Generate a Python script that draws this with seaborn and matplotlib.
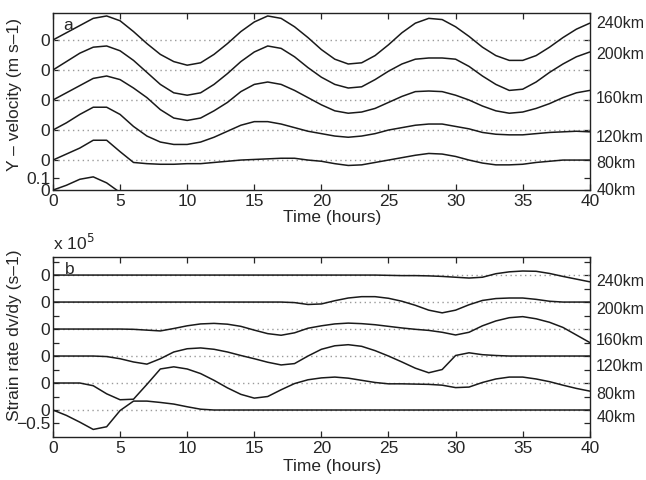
import numpy as np
import pandas as pd
import matplotlib
matplotlib.use("Agg")
import matplotlib.pyplot as plt
import seaborn as sns

hours = list(range(41))
stations = ["40km", "80km", "120km", "160km", "200km", "240km"]

# (a) Y-velocity anomaly per station, m/s (each trace drawn on its own baseline)
vel_40km = [0.00, 0.04, 0.09, 0.11, 0.06, -0.02, -0.05, -0.07] + [np.nan] * 33
vel_80km = [0.00, 0.05, 0.10, 0.165, 0.165, 0.07, -0.02, -0.03, -0.035, -0.035, -0.03,
            -0.03, -0.02, -0.01, 0.00, 0.005, 0.01, 0.015, 0.015, 0.00, -0.01,
            -0.03, -0.045, -0.04, -0.02, 0.00, 0.02, 0.04, 0.055, 0.05, 0.03,
            0.00, -0.025, -0.04, -0.04, -0.035, -0.02, -0.01, 0.00, 0.00, 0.00]
vel_120km = [0.00, 0.06, 0.13, 0.19, 0.19, 0.13, 0.03, -0.05, -0.10, -0.12, -0.12,
             -0.10, -0.06, -0.01, 0.04, 0.07, 0.07, 0.05, 0.02, -0.01, -0.03,
             -0.05, -0.06, -0.05, -0.03, 0.00, 0.02, 0.04, 0.05, 0.05, 0.03,
             0.01, -0.02, -0.035, -0.04, -0.04, -0.03, -0.02, -0.015, -0.01, -0.015]
vel_160km = [0.00, 0.06, 0.12, 0.18, 0.20, 0.17, 0.10, 0.02, -0.08, -0.15, -0.17,
             -0.15, -0.09, -0.02, 0.07, 0.13, 0.15, 0.13, 0.08, 0.02, -0.04,
             -0.09, -0.11, -0.10, -0.07, -0.02, 0.03, 0.07, 0.075, 0.07, 0.04,
             0.00, -0.05, -0.09, -0.11, -0.10, -0.07, -0.03, 0.02, 0.06, 0.08]
vel_200km = [0.00, 0.07, 0.14, 0.19, 0.20, 0.16, 0.08, -0.02, -0.12, -0.19, -0.21,
             -0.19, -0.12, -0.03, 0.07, 0.15, 0.20, 0.18, 0.11, 0.02, -0.06,
             -0.12, -0.15, -0.14, -0.08, -0.01, 0.05, 0.09, 0.10, 0.10, 0.09,
             0.03, -0.05, -0.12, -0.17, -0.16, -0.10, -0.02, 0.05, 0.11, 0.15]
vel_240km = [0.00, 0.06, 0.12, 0.18, 0.20, 0.16, 0.07, -0.03, -0.12, -0.18, -0.21,
             -0.19, -0.12, -0.03, 0.07, 0.15, 0.20, 0.18, 0.11, 0.02, -0.08,
             -0.16, -0.20, -0.19, -0.13, -0.04, 0.06, 0.14, 0.18, 0.17, 0.11,
             0.03, -0.06, -0.13, -0.17, -0.17, -0.13, -0.06, 0.02, 0.09, 0.14]

# (b) strain rate dv/dy per station, x 1e-5 s^-1
strain_40km = [0.00, -0.20, -0.45, -0.72, -0.62, -0.02, 0.33, 0.33, 0.28, 0.22, 0.12,
               0.03] + [0.00] * 29
strain_80km = [0.00, 0.00, 0.00, -0.10, -0.40, -0.62, -0.60, -0.05, 0.52, 0.60, 0.52,
               0.35, 0.10, -0.18, -0.42, -0.56, -0.50, -0.25, -0.02, 0.12, 0.19,
               0.22, 0.18, 0.10, 0.02, -0.03, -0.03, -0.04, -0.05, -0.08, -0.17,
               -0.15, 0.02, 0.15, 0.22, 0.22, 0.15, 0.05, -0.08, -0.20, -0.30]
strain_120km = [0.00] * 4 + [-0.02, -0.10, -0.22, -0.30, -0.10, 0.15, 0.27,
                0.30, 0.25, 0.15, 0.02, -0.10, -0.23, -0.33, -0.28, 0.00, 0.25,
                0.38, 0.42, 0.36, 0.20, 0.00, -0.22, -0.45, -0.62, -0.50, 0.02,
                0.12, 0.05, 0.02, 0.00, 0.00, 0.00, 0.00, 0.00, 0.00, 0.00]
strain_160km = [0.00] * 6 + [-0.01, -0.04, -0.07, 0.02, 0.12,
                0.19, 0.21, 0.18, 0.10, -0.04, -0.17, -0.23, -0.14, 0.03, 0.12,
                0.19, 0.22, 0.20, 0.16, 0.10, 0.04, -0.01, -0.05, -0.12, -0.22,
                -0.12, 0.12, 0.30, 0.42, 0.46, 0.38, 0.25, 0.06, -0.22, -0.50]
strain_200km = [0.00] * 18 + [-0.02, -0.09, -0.07,
                0.05, 0.15, 0.20, 0.20, 0.14, 0.03, -0.12, -0.30, -0.40, -0.30,
                -0.10, 0.06, 0.13, 0.15, 0.15, 0.10, 0.03, 0.00, 0.00, 0.00]
strain_240km = [0.00] * 25 + [-0.01, -0.02, -0.02, -0.03, -0.05, -0.08,
                -0.11, -0.08, 0.05, 0.12, 0.15, 0.14, 0.06, -0.05, -0.15, -0.25]

vel_step = 0.25
strain_step = 1.0

# where the station names sit on the right of each panel (data units)
vel_name_y = [0.0, 0.225, 0.44, 0.76, 1.125, 1.385]
strain_name_y = [-0.27, 0.59, 1.63, 2.59, 3.74, 4.78]


def stack(series, step):
    frames = []
    for i, (name, vals) in enumerate(zip(stations, series)):
        frames.append(pd.DataFrame({"hour": hours,
                                    "value": np.array(vals, dtype=float) + i * step,
                                    "station": name}))
    return pd.concat(frames, ignore_index=True)


def style_axis(ax):
    ax.set_xlim(0, 40)
    ax.set_xticks(range(0, 41, 5))
    ax.tick_params(direction="in", top=True, right=True, length=4, width=0.9,
                   labelsize=12.5, pad=3)
    ax.tick_params(axis="y", pad=2)
    for s in ax.spines.values():
        s.set_linewidth(1.0)
        s.set_color("#222222")
    ax.set_xlabel("Time (hours)", fontsize=12.5)


sns.set_style("ticks")
plt.rcParams["font.family"] = ["Liberation Sans", "DejaVu Sans"]

fig = plt.figure(figsize=(6.46, 4.8), dpi=100)
ax1 = fig.add_axes([0.082, 0.604, 0.831, 0.369])
ax2 = fig.add_axes([0.082, 0.0896, 0.831, 0.375])

# panel a
vel_df = stack([vel_40km, vel_80km, vel_120km, vel_160km, vel_200km, vel_240km], vel_step)
for i in range(1, len(stations)):
    ax1.axhline(i * vel_step, color="#9a9a9a", linestyle=(0, (1, 2.5)), lw=1.0, zorder=1)
sns.lineplot(data=vel_df, x="hour", y="value", units="station", estimator=None,
             color="#1a1a1a", lw=1.1, ax=ax1, zorder=3)
ax1.set_ylim(0, 1.475)
yt = [0, 0.1] + [i * vel_step for i in range(1, 6)]
ax1.set_yticks(yt)
ax1.set_yticklabels(["0", "0.1"] + ["0"] * 5)
style_axis(ax1)
ax1.set_ylabel("Y \u2013 velocity (m s\u20131)", fontsize=12.5)
ax1.yaxis.set_label_coords(-0.058, 0.54)
ax1.xaxis.set_label_coords(0.52, -0.115)
ax1.text(0.02, 0.93, "a", transform=ax1.transAxes, fontsize=12.5, va="center")
for name, y in zip(stations, vel_name_y):
    ax1.text(1.012, y, name, transform=ax1.get_yaxis_transform(), fontsize=11.5,
             va="center", ha="left")

# panel b
strain_df = stack([strain_40km, strain_80km, strain_120km, strain_160km,
                   strain_200km, strain_240km], strain_step)
for i in range(len(stations)):
    ax2.axhline(i * strain_step, color="#9a9a9a", linestyle=(0, (1, 2.5)), lw=1.0, zorder=1)
sns.lineplot(data=strain_df, x="hour", y="value", units="station", estimator=None,
             color="#1a1a1a", lw=1.1, ax=ax2, zorder=3)
ax2.set_ylim(-1.0, 5.67)
yt2 = [k * 0.5 for k in range(-1, 12)]
ax2.set_yticks(yt2)
ax2.set_yticklabels(["\u22120.5" if v < 0 else ("0" if v == int(v) else "") for v in yt2])
style_axis(ax2)
ax2.set_ylabel("Strain rate dv/dy (s\u20131)", fontsize=12.5)
ax2.yaxis.set_label_coords(-0.058, 0.565)
ax2.xaxis.set_label_coords(0.52, -0.125)
ax2.text(0.022, 0.93, "b", transform=ax2.transAxes, fontsize=12.5, va="center")
ax2.text(0.0, 1.02, "x 10$^5$", transform=ax2.transAxes, fontsize=12.5, va="bottom")
for name, y in zip(stations, strain_name_y):
    ax2.text(1.012, y, name, transform=ax2.get_yaxis_transform(), fontsize=11.5,
             va="center", ha="left")

fig.savefig("out.png", dpi=100, facecolor="white")
